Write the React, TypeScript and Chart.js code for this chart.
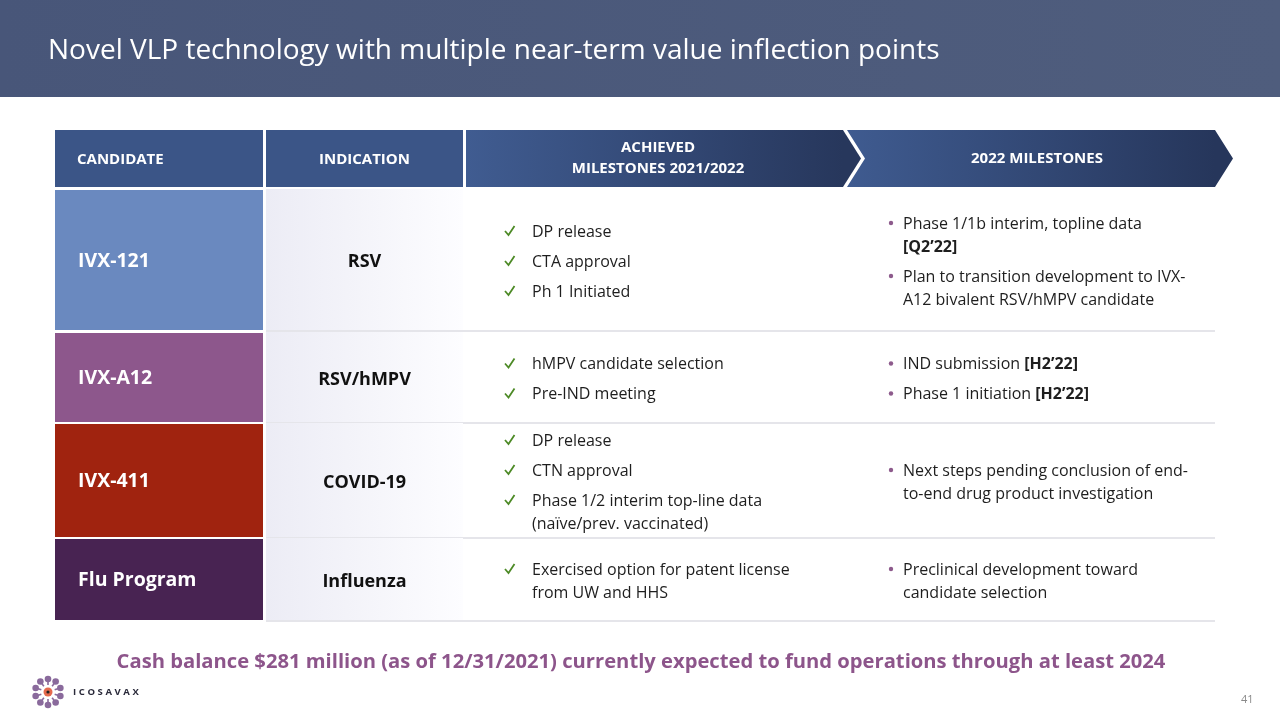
import React, { useEffect, useRef } from "react";
import { Chart, registerables } from "chart.js";

Chart.register(...registerables);

// ---------- content ----------
const slideTitle = "Novel VLP technology with multiple near-term value inflection points";
const headerLabels = ["CANDIDATE", "INDICATION", "ACHIEVED\nMILESTONES 2021/2022", "2022 MILESTONES"];
const candidates = ["IVX-121", "IVX-A12", "IVX-411", "Flu Program"];
const indications = ["RSV", "RSV/hMPV", "COVID-19", "Influenza"];
const achievedMilestones: string[][][] = [
  [["DP release"], ["CTA approval"], ["Ph 1 Initiated"]],
  [["hMPV candidate selection"], ["Pre-IND meeting"]],
  [["DP release"], ["CTN approval"], ["Phase 1/2 interim top-line data", "(naïve/prev. vaccinated)"]],
  [["Exercised option for patent license", "from UW and HHS"]],
];
const milestones2022: string[][][] = [
  [["Phase 1/1b interim, topline data", "**[Q2’22]**"], ["Plan to transition development to IVX-", "A12 bivalent RSV/hMPV candidate"]],
  [["IND submission **[H2’22]**"], ["Phase 1 initiation **[H2’22]**"]],
  [["Next steps pending conclusion of end-", "to-end drug product investigation"]],
  [["Preclinical development toward", "candidate selection"]],
];
const footnote = "Cash balance $281 million (as of 12/31/2021) currently expected to fund operations through at least 2024";
const companyName = "ICOSAVAX";
const pageNumber = "41";

// ---------- styles ----------
const candidateColors = ["#6a89bf", "#8d578c", "#a0230f", "#482352"];
const FONT = "'Open Sans', Lato, sans-serif";
const font = (size: number, bold = false) => `${bold ? "bold " : ""}${size}px ${FONT}`;

// ---------- layout (slide units) ----------
const ROWS: [number, number][] = [[190, 330], [333, 422], [424, 537], [539, 620]];
const CAND_X: [number, number] = [55, 263];
const IND_X: [number, number] = [266, 463];
const ACH_X: [number, number] = [466, 843];
const NEXT_X: [number, number] = [847, 1215];
const HEAD_Y: [number, number] = [130, 187];
const TIP = 18;

function drawRich(ctx: CanvasRenderingContext2D, line: string, x: number, y: number, size: number, color: string) {
  const parts = line.split("**");
  let cx = x;
  ctx.fillStyle = color;
  ctx.textAlign = "left";
  parts.forEach((p, i) => {
    if (!p) return;
    ctx.font = font(size, i % 2 === 1);
    ctx.fillText(p, cx, y);
    cx += ctx.measureText(p).width;
  });
}

const slidePlugin = {
  id: "slideTable",
  afterDraw(chart: any) {
    const ctx: CanvasRenderingContext2D = chart.ctx;
    const X = (v: number) => chart.scales.x.getPixelForValue(v);
    const Y = (v: number) => chart.scales.y.getPixelForValue(v);
    ctx.save();

    // title bar
    const tg = ctx.createLinearGradient(X(0), 0, X(1280), 0);
    tg.addColorStop(0, "#485679");
    tg.addColorStop(1, "#4f5d7d");
    ctx.fillStyle = tg;
    ctx.fillRect(X(0), Y(0), X(1280) - X(0), Y(97) - Y(0));
    ctx.fillStyle = "#ffffff";
    ctx.font = font(28);
    ctx.textBaseline = "middle";
    ctx.textAlign = "left";
    ctx.fillText(slideTitle, X(48), Y(51));

    // header cells
    ctx.fillStyle = "#3b5587";
    ctx.fillRect(X(CAND_X[0]), Y(HEAD_Y[0]), X(CAND_X[1]) - X(CAND_X[0]), Y(HEAD_Y[1]) - Y(HEAD_Y[0]));
    ctx.fillRect(X(IND_X[0]), Y(HEAD_Y[0]), X(IND_X[1]) - X(IND_X[0]), Y(HEAD_Y[1]) - Y(HEAD_Y[0]));
    const hm = (HEAD_Y[0] + HEAD_Y[1]) / 2;
    // chevron 1
    let g = ctx.createLinearGradient(X(ACH_X[0]), 0, X(ACH_X[1]), 0);
    g.addColorStop(0, "#405c91");
    g.addColorStop(1, "#27375c");
    ctx.fillStyle = g;
    ctx.beginPath();
    ctx.moveTo(X(ACH_X[0]), Y(HEAD_Y[0]));
    ctx.lineTo(X(ACH_X[1]), Y(HEAD_Y[0]));
    ctx.lineTo(X(ACH_X[1] + TIP), Y(hm));
    ctx.lineTo(X(ACH_X[1]), Y(HEAD_Y[1]));
    ctx.lineTo(X(ACH_X[0]), Y(HEAD_Y[1]));
    ctx.closePath();
    ctx.fill();
    // chevron 2
    g = ctx.createLinearGradient(X(NEXT_X[0]), 0, X(NEXT_X[1]), 0);
    g.addColorStop(0, "#3f5b90");
    g.addColorStop(1, "#26365b");
    ctx.fillStyle = g;
    ctx.beginPath();
    ctx.moveTo(X(NEXT_X[0]), Y(HEAD_Y[0]));
    ctx.lineTo(X(NEXT_X[1]), Y(HEAD_Y[0]));
    ctx.lineTo(X(NEXT_X[1] + TIP), Y(hm));
    ctx.lineTo(X(NEXT_X[1]), Y(HEAD_Y[1]));
    ctx.lineTo(X(NEXT_X[0]), Y(HEAD_Y[1]));
    ctx.lineTo(X(NEXT_X[0] + TIP), Y(hm));
    ctx.closePath();
    ctx.fill();

    // header text
    ctx.fillStyle = "#ffffff";
    ctx.font = font(15, true);
    ctx.textAlign = "left";
    ctx.fillText(headerLabels[0], X(77), Y(hm + 1));
    ctx.textAlign = "center";
    ctx.fillText(headerLabels[1], X((IND_X[0] + IND_X[1]) / 2), Y(hm + 1));
    const achLines = headerLabels[2].split("\n");
    ctx.fillText(achLines[0], X(658), Y(hm - 11));
    ctx.fillText(achLines[1], X(658), Y(hm + 10));
    ctx.fillText(headerLabels[3], X(1037), Y(hm));

    // rows
    ROWS.forEach(([y0, y1], i) => {
      const mid = (y0 + y1) / 2;
      ctx.fillStyle = candidateColors[i];
      ctx.fillRect(X(CAND_X[0]), Y(y0), X(CAND_X[1]) - X(CAND_X[0]), Y(y1) - Y(y0));
      const ig = ctx.createLinearGradient(X(IND_X[0]), 0, X(IND_X[1]), 0);
      ig.addColorStop(0, "#ececf5");
      ig.addColorStop(1, "#fdfdff");
      ctx.fillStyle = ig;
      ctx.fillRect(X(IND_X[0]), Y(y0 - 1), X(IND_X[1]) - X(IND_X[0]), Y(y1 + 1) - Y(y0 - 1));
      // separator line
      ctx.strokeStyle = "#e5e5ea";
      ctx.lineWidth = 2;
      ctx.beginPath();
      ctx.moveTo(X(IND_X[0]), Y(y1 + 1));
      ctx.lineTo(X(NEXT_X[1]), Y(y1 + 1));
      ctx.stroke();

      ctx.fillStyle = "#ffffff";
      ctx.font = font(19.5, true);
      ctx.textAlign = "left";
      ctx.fillText(candidates[i], X(78), Y(mid + 1));
      ctx.fillStyle = "#111111";
      ctx.font = font(18, true);
      ctx.textAlign = "center";
      ctx.fillText(indications[i], X((IND_X[0] + IND_X[1]) / 2), Y(mid + 2));

      const layoutBullets = (items: string[][]) => {
        const pos: number[][] = [];
        let y = 0;
        items.forEach((lines, bi) => {
          if (bi > 0) y += 30;
          const p: number[] = [];
          lines.forEach((_, li) => {
            if (li > 0) y += 23;
            p.push(y);
          });
          pos.push(p);
        });
        const off = mid + 2 - y / 2;
        return pos.map((p) => p.map((v) => v + off));
      };

      // achieved
      const ap = layoutBullets(achievedMilestones[i]);
      achievedMilestones[i].forEach((lines, bi) => {
        const by = ap[bi][0] - 1;
        ctx.strokeStyle = "#4d8a26";
        ctx.lineWidth = 1.8;
        ctx.beginPath();
        ctx.moveTo(X(505), Y(by));
        ctx.lineTo(X(508.5), Y(by + 4));
        ctx.lineTo(X(514.5), Y(by - 5));
        ctx.stroke();
        lines.forEach((ln, li) => drawRich(ctx, ln, X(532), Y(ap[bi][li]), 16, "#1e1e1e"));
      });
      // 2022
      const np = layoutBullets(milestones2022[i]);
      milestones2022[i].forEach((lines, bi) => {
        const by = np[bi][0] - 1;
        ctx.fillStyle = "#8d5a8c";
        ctx.beginPath();
        ctx.arc(X(891), Y(by), 2.2, 0, Math.PI * 2);
        ctx.fill();
        lines.forEach((ln, li) => drawRich(ctx, ln, X(903), Y(np[bi][li]), 16, "#1e1e1e"));
      });
    });

    // footnote
    ctx.fillStyle = "#8d558b";
    ctx.font = font(20.2, true);
    ctx.textAlign = "center";
    ctx.fillText(footnote, X(641), Y(662));

    // logo
    const cx = X(48), cy = Y(692);
    ctx.fillStyle = "#8a6a9c";
    ctx.strokeStyle = "#8a6a9c";
    ctx.lineWidth = 1.6;
    for (let k = 0; k < 10; k++) {
      const a = (k / 10) * Math.PI * 2 + Math.PI / 10;
      ctx.beginPath();
      ctx.moveTo(cx + Math.cos(a) * 7, cy + Math.sin(a) * 7);
      ctx.lineTo(cx + Math.cos(a) * 11, cy + Math.sin(a) * 11);
      ctx.stroke();
      ctx.beginPath();
      ctx.arc(cx + Math.cos(a) * 13, cy + Math.sin(a) * 13, 3.3, 0, Math.PI * 2);
      ctx.fill();
    }
    ctx.fillStyle = "#e56a4e";
    ctx.beginPath();
    ctx.arc(cx, cy, 4.5, 0, Math.PI * 2);
    ctx.fill();
    ctx.fillStyle = "#222222";
    ctx.beginPath();
    ctx.arc(cx, cy, 1.6, 0, Math.PI * 2);
    ctx.fill();
    ctx.fillStyle = "#2a2a3a";
    ctx.font = font(9.5, true);
    ctx.textAlign = "left";
    let lx = X(73);
    for (const ch of companyName) {
      ctx.fillText(ch, lx, Y(692));
      lx += ctx.measureText(ch).width + 2.6;
    }

    // page number
    ctx.fillStyle = "#8a8a8a";
    ctx.font = font(11);
    ctx.textAlign = "left";
    ctx.fillText(pageNumber, X(1241), Y(700));

    ctx.restore();
  },
};

export default function App() {
  const ref = useRef<HTMLCanvasElement>(null);
  useEffect(() => {
    document.body.style.margin = "0";
    const chart = new Chart(ref.current as HTMLCanvasElement, {
      type: "scatter",
      data: { datasets: [{ data: [] }] },
      options: {
        animation: false,
        responsive: false,
        events: [],
        layout: { padding: 0 },
        plugins: { legend: { display: false }, tooltip: { enabled: false } },
        scales: {
          x: { type: "linear", min: 0, max: 1280, display: false },
          y: { type: "linear", min: 0, max: 720, reverse: true, display: false },
        },
      },
      plugins: [slidePlugin],
    } as any);
    return () => chart.destroy();
  }, []);
  return (
    <div style={{ position: "absolute", left: 0, top: 0, width: 1280, height: 720, background: "#ffffff" }}>
      <canvas ref={ref} width={1280} height={720} style={{ width: 1280, height: 720, display: "block" }} />
    </div>
  );
}
